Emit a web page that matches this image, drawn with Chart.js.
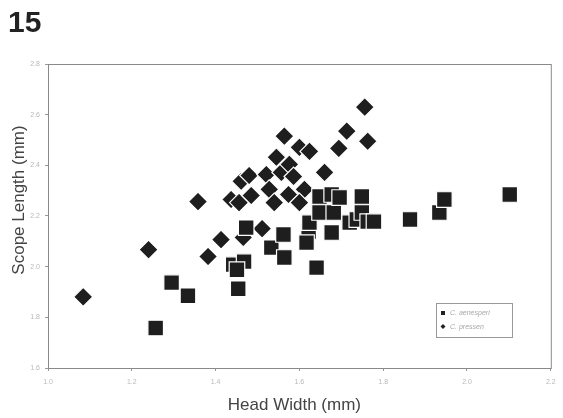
<!DOCTYPE html>
<html>
<head>
<meta charset="utf-8">
<script src="https://cdn.jsdelivr.net/npm/chart.js@4"></script>
<style>
  html, body { margin: 0; padding: 0; background: #fff; }
  #wrap { width: 563px; height: 418px; position: relative; }
</style>
</head>
<body>
<div id="wrap"><canvas id="chart1"></canvas></div>
<script>
// ---- data ----
const xTicks = [1.0, 1.2, 1.4, 1.6, 1.8, 2.0, 2.2];
const yTicks = [1.6, 1.8, 2.0, 2.2, 2.4, 2.6, 2.8];

// C. aenesperi (squares)
const squareX = [1.257, 1.295, 1.334, 1.454, 1.442, 1.468, 1.451, 1.533, 1.564, 1.641,
  1.562, 1.473, 1.622, 1.617, 1.677, 1.624, 1.648, 1.682, 1.648, 1.677,
  1.696, 1.720, 1.737, 1.749, 1.749, 1.763, 1.778, 1.864, 1.934, 1.946, 2.102];
const squareY = [1.758, 1.937, 1.885, 1.913, 2.008, 2.020, 1.988, 2.075, 2.036, 1.996,
  2.127, 2.154, 2.139, 2.095, 2.135, 2.174, 2.214, 2.214, 2.277, 2.285,
  2.273, 2.174, 2.186, 2.214, 2.277, 2.178, 2.178, 2.186, 2.214, 2.265, 2.285];

// C. pressen (diamonds)
const diamondX = [1.084, 1.240, 1.358, 1.382, 1.413, 1.466, 1.511, 1.437, 1.456, 1.461,
  1.480, 1.485, 1.521, 1.528, 1.540, 1.545, 1.564, 1.557, 1.576, 1.586,
  1.574, 1.600, 1.612, 1.600, 1.624, 1.660, 1.694, 1.713, 1.756, 1.763];
const diamondY = [1.881, 2.067, 2.257, 2.040, 2.107, 2.115, 2.150, 2.265, 2.253, 2.337,
  2.360, 2.281, 2.364, 2.305, 2.253, 2.432, 2.515, 2.372, 2.404, 2.356,
  2.285, 2.471, 2.305, 2.253, 2.455, 2.372, 2.467, 2.535, 2.630, 2.495];

const seriesNames = ['C. aenesperi', 'C. pressen'];
const figLabel = '15';
const xTitle = 'Head Width (mm)';
const yTitle = 'Scope Length (mm)';

const toPoints = (xs, ys) => xs.map((x, i) => ({ x: x, y: ys[i] }));

// ---- extras: panel number, box round plot, axis titles, small legend ----
const extras = {
  id: 'extras',
  afterDraw(chart) {
    const ctx = chart.ctx;
    const a = chart.chartArea;
    ctx.save();
    // frame
    ctx.strokeStyle = '#8a8a8a';
    ctx.lineWidth = 1;
    ctx.strokeRect(a.left + 0.5, a.top + 0.5, a.right - a.left, a.bottom - a.top);

    // panel number
    ctx.fillStyle = '#222';
    ctx.font = 'bold 30px "Liberation Sans", Arial, sans-serif';
    ctx.textAlign = 'left';
    ctx.textBaseline = 'alphabetic';
    ctx.fillText(figLabel, 8, 32);

    // axis titles
    ctx.fillStyle = '#444';
    ctx.font = '17px "Liberation Sans", Arial, sans-serif';
    ctx.textAlign = 'center';
    ctx.fillText(xTitle, (a.left + a.right) / 2 - 5, 410);
    ctx.translate(19, 200);
    ctx.rotate(-Math.PI / 2);
    ctx.textBaseline = 'middle';
    ctx.fillText(yTitle, 0, 0);
    ctx.restore();

    // legend box
    ctx.save();
    const lx = 436, ly = 303, lw = 76, lh = 34;
    ctx.fillStyle = '#fff';
    ctx.fillRect(lx, ly, lw, lh);
    ctx.strokeStyle = '#999';
    ctx.lineWidth = 1;
    ctx.strokeRect(lx + 0.5, ly + 0.5, lw, lh);
    ctx.fillStyle = '#222';
    ctx.fillRect(lx + 5, ly + 8, 4, 4);
    ctx.beginPath();
    ctx.moveTo(lx + 7, ly + 21);
    ctx.lineTo(lx + 9.5, ly + 23.5);
    ctx.lineTo(lx + 7, ly + 26);
    ctx.lineTo(lx + 4.5, ly + 23.5);
    ctx.closePath();
    ctx.fill();
    ctx.fillStyle = '#a8a8a8';
    ctx.font = 'italic 7px "Liberation Sans", Arial, sans-serif';
    ctx.textBaseline = 'middle';
    ctx.fillText(seriesNames[0], lx + 14, ly + 10);
    ctx.fillText(seriesNames[1], lx + 14, ly + 24);
    ctx.restore();
  }
};

const ctx = document.getElementById('chart1').getContext('2d');
new Chart(ctx, {
  type: 'scatter',
  data: {
    datasets: [
      {
        label: seriesNames[0],
        data: toPoints(squareX, squareY),
        pointStyle: 'rect',
        pointRadius: 11,
        backgroundColor: '#1e1e1e',
        borderColor: '#ffffff',
        borderWidth: 1.2
      },
      {
        label: seriesNames[1],
        data: toPoints(diamondX, diamondY),
        pointStyle: 'rectRot',
        pointRadius: 9.5,
        backgroundColor: '#1e1e1e',
        borderColor: '#ffffff',
        borderWidth: 1.2
      }
    ]
  },
  options: {
    responsive: true,
    maintainAspectRatio: false,
    animation: false,
    layout: { padding: { top: 64, right: 11, left: 0, bottom: 0 } },
    plugins: {
      legend: { display: false },
      tooltip: { enabled: false }
    },
    scales: {
      x: {
        type: 'linear',
        min: xTicks[0],
        max: xTicks[xTicks.length - 1],
        afterBuildTicks: s => { s.ticks = xTicks.map(v => ({ value: v })); },
        afterFit: s => { s.height = 50; },
        grid: { drawOnChartArea: false, color: '#999', tickLength: 3 },
        border: { color: '#8a8a8a' },
        ticks: {
          color: '#b8b8b8',
          font: { size: 7 },
          padding: 7,
          callback: v => v.toFixed(1)
        }
      },
      y: {
        type: 'linear',
        min: yTicks[0],
        max: yTicks[yTicks.length - 1],
        afterBuildTicks: s => { s.ticks = yTicks.map(v => ({ value: v })); },
        afterFit: s => { s.width = 48; },
        grid: { drawOnChartArea: false, color: '#999', tickLength: 3 },
        border: { color: '#8a8a8a' },
        ticks: {
          color: '#b8b8b8',
          font: { size: 7 },
          padding: 5,
          callback: v => v.toFixed(1)
        }
      }
    }
  },
  plugins: [extras]
});
</script>
</body>
</html>
